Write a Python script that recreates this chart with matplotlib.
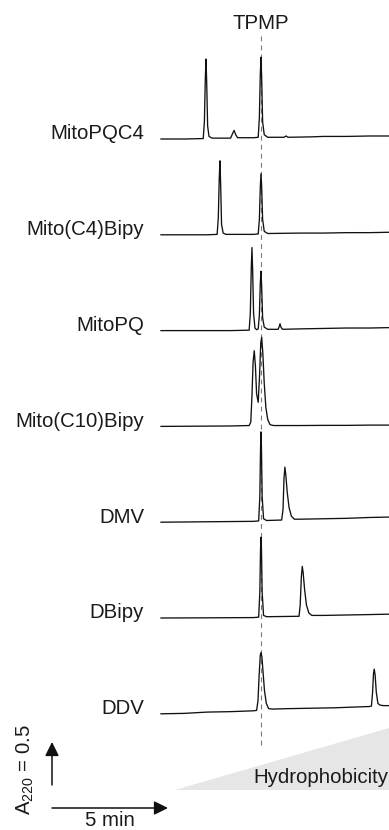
import matplotlib
matplotlib.use("Agg")
import matplotlib.pyplot as plt
from matplotlib.patches import Polygon

plt.rcParams['font.family'] = ['Liberation Sans', 'DejaVu Sans']
plt.rcParams['mathtext.fontset'] = 'custom'
plt.rcParams['mathtext.rm'] = 'Liberation Sans'
plt.rcParams['lines.scale_dashes'] = False

# ---------------- data (time in min, absorbance A220 above each baseline) -------------
labels = ["MitoPQC4", "Mito(C4)Bipy", "MitoPQ", "Mito(C10)Bipy", "DMV", "DBipy", "DDV"]

t_mitopqc4 = [0, 1.0, 1.82, 1.87, 1.91, 1.94, 1.97, 2.01, 2.07, 2.2, 3.0, 3.08, 3.15, 3.22, 3.3,
              4.0, 4.19, 4.24, 4.28, 4.31, 4.34, 4.38, 4.45, 4.6, 5.3, 5.39, 5.48, 6.5, 7.0, 8.0, 9.0, 9.9]
a_mitopqc4 = [0, 0, 0.005, 0.2, 0.7, 0.93, 0.65, 0.15, 0.03, 0.01, 0.01, 0.06, 0.10, 0.05, 0.015,
              0.015, 0.02, 0.25, 0.75, 0.95, 0.7, 0.2, 0.05, 0.02, 0.02, 0.035, 0.02, 0.025, 0.03, 0.03, 0.035, 0.035]

t_mitoc4bipy = [0, 2.0, 2.42, 2.47, 2.51, 2.54, 2.57, 2.61, 2.68, 2.8, 4.0, 4.19, 4.24, 4.28, 4.31,
                4.34, 4.38, 4.45, 4.6, 6.0, 7.0, 8.0, 9.0, 9.9]
a_mitoc4bipy = [0, 0, 0.005, 0.2, 0.65, 0.86, 0.6, 0.12, 0.02, 0.005, 0.005, 0.01, 0.18, 0.55, 0.71,
                0.55, 0.18, 0.04, 0.015, 0.02, 0.02, 0.025, 0.025, 0.03]

t_mitopq = [0, 3.0, 3.80, 3.85, 3.89, 3.92, 3.95, 3.99, 4.05, 4.12, 4.19, 4.24, 4.28, 4.31, 4.34,
            4.38, 4.45, 4.6, 5.05, 5.1, 5.13, 5.17, 5.24, 6.0, 7.0, 8.0, 9.0, 9.9]
a_mitopq = [0, 0, 0.005, 0.2, 0.72, 0.965, 0.7, 0.2, 0.03, 0.01, 0.02, 0.18, 0.55, 0.69, 0.5,
            0.15, 0.04, 0.015, 0.015, 0.05, 0.08, 0.04, 0.015, 0.02, 0.025, 0.03, 0.03, 0.035]

t_mitoc10bipy = [0, 3.0, 3.80, 3.87, 3.92, 3.97, 4.02, 4.07, 4.12, 4.19, 4.25, 4.30, 4.34, 4.39,
                 4.45, 4.52, 4.60, 4.70, 4.85, 6.0, 7.0, 8.0, 9.0, 9.9]
a_mitoc10bipy = [0, 0.005, 0.01, 0.05, 0.35, 0.75, 0.88, 0.7, 0.38, 0.28, 0.6, 0.97, 1.035, 0.85,
                 0.5, 0.22, 0.08, 0.02, 0.01, 0.01, 0.012, 0.012, 0.015, 0.015]

t_dmv = [0, 2.0, 4.0, 4.21, 4.26, 4.29, 4.31, 4.33, 4.36, 4.42, 4.55, 5.20, 5.26, 5.30, 5.34,
         5.38, 5.44, 5.52, 5.62, 5.75, 6.0, 7.0, 8.0, 9.0, 9.9]
a_dmv = [0, 0.005, 0.01, 0.015, 0.3, 0.85, 1.05, 0.85, 0.3, 0.04, 0.02, 0.025, 0.15, 0.5, 0.64,
         0.55, 0.35, 0.17, 0.07, 0.035, 0.035, 0.04, 0.045, 0.055, 0.06]

t_dbipy = [0, 2.0, 4.0, 4.21, 4.26, 4.29, 4.31, 4.33, 4.36, 4.42, 4.55, 5.95, 6.0, 6.05, 6.09,
           6.13, 6.19, 6.27, 6.37, 6.50, 7.0, 8.0, 9.0, 9.9]
a_dbipy = [0, 0.002, 0.005, 0.01, 0.3, 0.8, 0.94, 0.8, 0.3, 0.03, 0.015, 0.02, 0.15, 0.48, 0.60,
           0.52, 0.33, 0.15, 0.06, 0.03, 0.03, 0.035, 0.04, 0.045]

t_ddv = [0, 1.0, 2.0, 3.0, 4.0, 4.12, 4.18, 4.23, 4.28, 4.31, 4.35, 4.40, 4.46, 4.54, 4.64, 4.80,
         5.5, 6.5, 7.5, 8.5, 9.0, 9.07, 9.12, 9.16, 9.19, 9.23, 9.28, 9.35, 9.45, 9.6, 9.9]
a_ddv = [0, 0.005, 0.02, 0.025, 0.035, 0.04, 0.15, 0.45, 0.68, 0.71, 0.66, 0.48, 0.27, 0.12, 0.06, 0.055,
         0.06, 0.065, 0.07, 0.08, 0.085, 0.09, 0.25, 0.47, 0.52, 0.45, 0.25, 0.12, 0.1, 0.095, 0.095]

times = [t_mitopqc4, t_mitoc4bipy, t_mitopq, t_mitoc10bipy, t_dmv, t_dbipy, t_ddv]
absorb = [a_mitopqc4, a_mitoc4bipy, a_mitopq, a_mitoc10bipy, a_dmv, a_dbipy, a_ddv]

tpmp_time = 4.31
scale_time = 5      # min
scale_abs = 0.5     # A220

# ---------------- layout ----------------
W, H = 389, 830
px_per_min = 23.2
px_per_au = 86.0
x0_px = 161  # pixel of t = 0

fig = plt.figure(figsize=(W / 100, H / 100), dpi=100)
ax = fig.add_axes([0, 0, 1, 1])
ax.set_xlim(-x0_px / px_per_min, (W - x0_px) / px_per_min)
ax.set_ylim(0, H / px_per_au)
ax.axis('off')

def px_x(p):
    return (p - x0_px) / px_per_min

def px_y(p):
    return (H - p) / px_per_au

base_top = px_y(139)
spacing = 95.8 / px_per_au
txt_color = '#1a1a1a'
fs = 14.7

for i, (lab, t, a) in enumerate(zip(labels, times, absorb)):
    base = base_top - i * spacing
    ax.plot(t, [base + v for v in a], color='#111111', lw=0.95, solid_joinstyle='round')
    ax.text(px_x(144), base + 0.06, lab, ha='right', va='center', fontsize=fs, color=txt_color)

# TPMP dashed line
ax.plot([tpmp_time, tpmp_time], [px_y(745), px_y(33)], color='#7a7a7a', lw=0.8,
        dashes=(3.5, 3.0), zorder=0)
ax.text(tpmp_time, px_y(24), "TPMP", ha='center', va='center', fontsize=fs, color=txt_color)

# Hydrophobicity wedge
tri = Polygon([[px_x(175), px_y(790)], [px_x(389), px_y(728)], [px_x(389), px_y(790)]],
              closed=True, facecolor='#e6e6e6', edgecolor='none', zorder=0)
ax.add_patch(tri)
ax.text(px_x(388), px_y(777), "Hydrophobicity", ha='right', va='center', fontsize=fs,
        color=txt_color)

# scale bars
sx0 = px_x(52)
sy0 = px_y(785)
hy = px_y(808)
arrow = dict(arrowstyle='-|>', mutation_scale=21, lw=1.1, color='#111', shrinkA=0, shrinkB=0)
ax.annotate('', xy=(sx0 + scale_time, hy), xytext=(sx0, hy), arrowprops=arrow)
ax.annotate('', xy=(sx0, sy0 + scale_abs), xytext=(sx0, sy0), arrowprops=arrow)
ax.text(sx0 + scale_time / 2, px_y(820), "%d min" % scale_time, ha='center', va='center',
        fontsize=fs, color=txt_color)
ax.text(px_x(25), px_y(770), r"A$_{\mathregular{220}}$ = %.1f" % scale_abs, ha='center',
        va='center', rotation=90, fontsize=fs, color=txt_color)

fig.savefig("out.png", dpi=100)
